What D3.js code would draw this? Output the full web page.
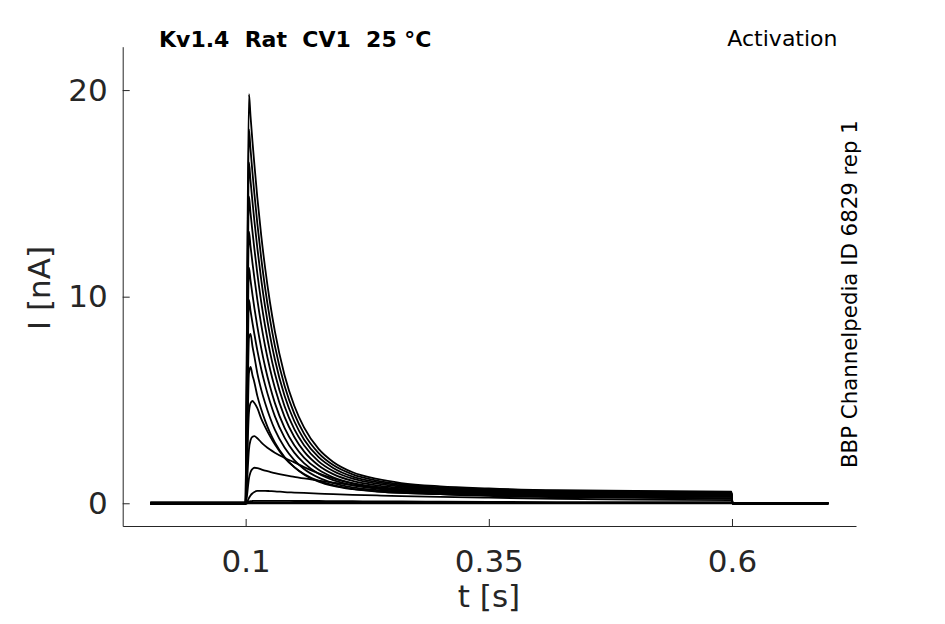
<!DOCTYPE html>
<html>
<head>
  <meta charset='utf-8'>
  <script src='https://d3js.org/d3.v7.min.js'></script>
  <style>
    body { margin: 0; background: #fff; }
    text { font-family: 'DejaVu Sans', sans-serif; }
  </style>
</head>
<body>
<script>

// sample times (s), shared by every sweep
const time = [0.002, 0.0999, 0.1, 0.1012, 0.1034, 0.105, 0.107, 0.109, 0.112, 0.116, 0.12,
  0.125, 0.13, 0.14, 0.15, 0.16, 0.175, 0.19, 0.21, 0.235, 0.26, 0.3, 0.35, 0.42, 0.5,
  0.5995, 0.6005, 0.699];

// current (nA) of each activation sweep
const sweeps = [
  [0, 0, 0, 7.9, 19.8, 18.75, 17.52, 16.39, 14.81, 12.97, 11.40, 9.73, 8.33, 6.20, 4.72, 3.67, 2.63, 2.00, 1.50, 1.18, 0.98, 0.82, 0.72, 0.63, 0.60, 0.56, 0, 0],
  [0.02, 0.02, 0.02, 7.0, 18.1, 17.14, 16.02, 14.98, 13.55, 11.87, 10.43, 8.91, 7.63, 5.69, 4.34, 3.37, 2.43, 1.85, 1.40, 1.10, 0.92, 0.77, 0.68, 0.60, 0.56, 0.53, 0, 0],
  [-0.02, -0.02, -0.02, 6.2, 16.5, 15.62, 14.60, 13.66, 12.36, 10.83, 9.52, 8.13, 6.97, 5.20, 3.97, 3.09, 2.23, 1.71, 1.29, 1.02, 0.86, 0.72, 0.64, 0.57, 0.53, 0.50, 0, 0],
  [0.03, 0.03, 0.03, 5.4, 14.85, 14.06, 13.15, 12.30, 11.13, 9.75, 8.58, 7.33, 6.29, 4.70, 3.59, 2.81, 2.03, 1.56, 1.19, 0.95, 0.80, 0.68, 0.60, 0.53, 0.50, 0.48, 0, 0],
  [-0.03, -0.03, -0.03, 4.6, 13.15, 12.45, 11.64, 10.90, 9.86, 8.65, 7.61, 6.51, 5.59, 4.18, 3.21, 2.51, 1.83, 1.41, 1.08, 0.87, 0.74, 0.63, 0.56, 0.50, 0.47, 0.45, 0, 0],
  [0.01, 0.01, 0.01, 3.8, 11.4, 10.80, 10.10, 9.45, 8.56, 7.51, 6.61, 5.66, 4.86, 3.65, 2.81, 2.21, 1.62, 1.26, 0.97, 0.79, 0.68, 0.58, 0.52, 0.48, 0.45, 0.42, 0, 0],
  [-0.01, -0.01, -0.01, 3.1, 9.85, 9.33, 8.73, 8.18, 7.40, 6.50, 5.73, 4.91, 4.22, 3.18, 2.45, 1.94, 1.43, 1.12, 0.87, 0.71, 0.62, 0.54, 0.48, 0.44, 0.42, 0.40, 0, 0],
  [0.04, 0.04, 0.04, 2.4, 8.0, 8.2, 7.6, 7.1, 6.3, 5.5, 4.85, 4.15, 3.56, 2.70, 2.09, 1.66, 1.24, 0.98, 0.77, 0.64, 0.56, 0.49, 0.44, 0.41, 0.39, 0.37, 0, 0],
  [-0.04, -0.04, -0.04, 1.7, 6.3, 6.6, 6.2, 5.85, 5.2, 4.55, 4.0, 3.42, 2.95, 2.24, 1.75, 1.39, 1.05, 0.84, 0.68, 0.57, 0.50, 0.44, 0.40, 0.37, 0.36, 0.34, 0, 0],
  [0.02, 0.02, 0.02, 1.5, 4.4, 4.85, 4.95, 4.85, 4.6, 4.1, 3.7, 3.25, 2.85, 2.2, 1.75, 1.42, 1.08, 0.88, 0.7, 0.58, 0.5, 0.44, 0.38, 0.35, 0.33, 0.31, 0, 0],
  [-0.02, -0.02, -0.02, 0.8, 2.6, 3.05, 3.22, 3.25, 3.15, 2.95, 2.78, 2.6, 2.45, 2.2, 1.98, 1.75, 1.45, 1.2, 0.95, 0.72, 0.58, 0.45, 0.36, 0.3, 0.27, 0.25, 0, 0],
  [0, 0, 0, 0.3, 1.2, 1.5, 1.66, 1.72, 1.7, 1.64, 1.58, 1.52, 1.46, 1.36, 1.28, 1.2, 1.1, 1.0, 0.88, 0.75, 0.65, 0.5, 0.4, 0.32, 0.27, 0.22, 0, 0],
  [0.03, 0.03, 0.03, 0.05, 0.25, 0.38, 0.48, 0.55, 0.6, 0.6, 0.6, 0.59, 0.58, 0.54, 0.52, 0.5, 0.47, 0.44, 0.41, 0.38, 0.35, 0.31, 0.27, 0.22, 0.18, 0.15, 0, 0],
  [-0.03, -0.03, -0.03, 0.02, 0.08, 0.1, 0.11, 0.12, 0.12, 0.12, 0.12, 0.12, 0.12, 0.12, 0.11, 0.11, 0.11, 0.1, 0.1, 0.09, 0.09, 0.08, 0.07, 0.06, 0.05, 0.05, 0, 0],
  [0.01, 0.01, 0.01, 0.01, 0.03, 0.04, 0.04, 0.04, 0.04, 0.04, 0.04, 0.04, 0.04, 0.04, 0.04, 0.04, 0.03, 0.03, 0.03, 0.03, 0.03, 0.03, 0.02, 0.02, 0.02, 0.02, 0, 0],
  [-0.01, -0.01, -0.01, -0.01, 0, 0, 0, 0, 0, 0, 0, 0, 0, 0, 0, 0, 0, 0, 0, 0, 0, 0, 0, 0, 0, 0, 0, 0]
];

const xTicks = [0.1, 0.35, 0.6];
const yTicks = [0, 10, 20];

const width = 945, height = 624;
const axisColor = '#262626';

const svg = d3.select('body').append('svg')
  .attr('width', width)
  .attr('height', height);

const x = d3.scaleLinear().domain([-0.0264, 0.7275]).range([122.7, 856]);
const y = d3.scaleLinear().domain([-1.1, 22.1]).range([526, 46.7]);

const line = d3.line()
  .x((d, i) => x(time[i]))
  .y(d => y(d))
  .curve(d3.curveMonotoneX);

svg.append('g')
  .selectAll('path')
  .data(sweeps)
  .enter().append('path')
  .attr('d', line)
  .attr('fill', 'none')
  .attr('stroke', '#000')
  .attr('stroke-width', 1.8)
  .attr('stroke-linejoin', 'round');

// axes, ticks pointing inward
const gx = svg.append('g')
  .attr('transform', 'translate(0,526)')
  .call(d3.axisBottom(x).tickValues(xTicks).tickFormat(d3.format('')).tickSizeInner(-7).tickSizeOuter(0).tickPadding(24));

const gy = svg.append('g')
  .attr('transform', 'translate(122.7,0)')
  .call(d3.axisLeft(y).tickValues(yTicks).tickFormat(d3.format('d')).tickSizeInner(-7).tickSizeOuter(0).tickPadding(15));

[gx, gy].forEach(g => {
  g.select('.domain').attr('stroke', axisColor).attr('stroke-width', 1);
  g.selectAll('.tick line').attr('stroke', axisColor).attr('stroke-width', 1);
  g.selectAll('.tick text')
    .attr('fill', axisColor)
    .attr('font-size', 31)
    .attr('font-family', 'DejaVu Sans');
});

svg.append('text')
  .attr('x', 489)
  .attr('y', 606.5)
  .attr('text-anchor', 'middle')
  .attr('font-size', 31)
  .attr('fill', axisColor)
  .text('t [s]');

svg.append('text')
  .attr('transform', 'translate(49.5,288) rotate(-90)')
  .attr('text-anchor', 'middle')
  .attr('font-size', 31)
  .attr('fill', axisColor)
  .text('I [nA]');

svg.append('text')
  .attr('x', 159)
  .attr('y', 46.5)
  .attr('font-size', 22)
  .attr('font-weight', 'bold')
  .style('white-space', 'pre')
  .text('Kv1.4  Rat  CV1  25 °C');

svg.append('text')
  .attr('x', 837.5)
  .attr('y', 46)
  .attr('text-anchor', 'end')
  .attr('font-size', 22)
  .text('Activation');

svg.append('text')
  .attr('transform', 'translate(856.5,468) rotate(-90)')
  .attr('font-size', 21.3)
  .text('BBP Channelpedia ID 6829 rep 1');

</script>
</body>
</html>
